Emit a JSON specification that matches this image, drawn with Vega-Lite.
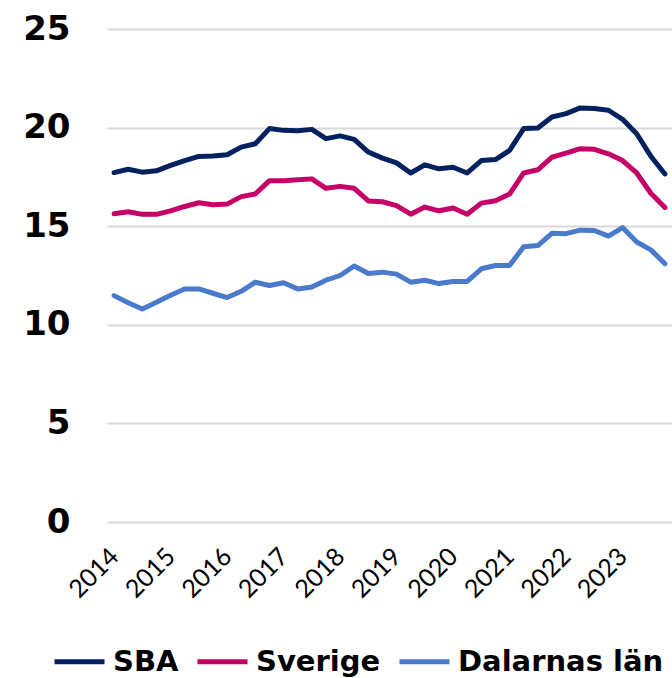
{
  "$schema": "https://vega.github.io/schema/vega-lite/v6.json",
  "autosize": {"type": "none"},
  "width": 565,
  "height": 493,
  "padding": {"left": 107, "top": 29, "right": 0, "bottom": 156},
  "background": "white",
  "config": {"view": {"stroke": null}},
  "data": {"values": [
    {"period":"2014Q1","series":"SBA","value":17.72},{"period":"2014Q2","series":"SBA","value":17.89},{"period":"2014Q3","series":"SBA","value":17.74},{"period":"2014Q4","series":"SBA","value":17.81},
    {"period":"2015Q1","series":"SBA","value":18.08},{"period":"2015Q2","series":"SBA","value":18.33},{"period":"2015Q3","series":"SBA","value":18.54},{"period":"2015Q4","series":"SBA","value":18.56},
    {"period":"2016Q1","series":"SBA","value":18.62},{"period":"2016Q2","series":"SBA","value":19.01},{"period":"2016Q3","series":"SBA","value":19.18},{"period":"2016Q4","series":"SBA","value":19.95},
    {"period":"2017Q1","series":"SBA","value":19.86},{"period":"2017Q2","series":"SBA","value":19.84},{"period":"2017Q3","series":"SBA","value":19.91},{"period":"2017Q4","series":"SBA","value":19.44},
    {"period":"2018Q1","series":"SBA","value":19.58},{"period":"2018Q2","series":"SBA","value":19.4},{"period":"2018Q3","series":"SBA","value":18.76},{"period":"2018Q4","series":"SBA","value":18.45},
    {"period":"2019Q1","series":"SBA","value":18.21},{"period":"2019Q2","series":"SBA","value":17.7},{"period":"2019Q3","series":"SBA","value":18.11},{"period":"2019Q4","series":"SBA","value":17.91},
    {"period":"2020Q1","series":"SBA","value":17.99},{"period":"2020Q2","series":"SBA","value":17.7},{"period":"2020Q3","series":"SBA","value":18.33},{"period":"2020Q4","series":"SBA","value":18.38},
    {"period":"2021Q1","series":"SBA","value":18.84},{"period":"2021Q2","series":"SBA","value":19.95},{"period":"2021Q3","series":"SBA","value":19.98},{"period":"2021Q4","series":"SBA","value":20.54},
    {"period":"2022Q1","series":"SBA","value":20.71},{"period":"2022Q2","series":"SBA","value":21.0},{"period":"2022Q3","series":"SBA","value":20.97},{"period":"2022Q4","series":"SBA","value":20.88},
    {"period":"2023Q1","series":"SBA","value":20.42},{"period":"2023Q2","series":"SBA","value":19.69},{"period":"2023Q3","series":"SBA","value":18.55},{"period":"2023Q4","series":"SBA","value":17.65},

    {"period":"2014Q1","series":"Sverige","value":15.63},{"period":"2014Q2","series":"Sverige","value":15.73},{"period":"2014Q3","series":"Sverige","value":15.6},{"period":"2014Q4","series":"Sverige","value":15.6},
    {"period":"2015Q1","series":"Sverige","value":15.78},{"period":"2015Q2","series":"Sverige","value":16.0},{"period":"2015Q3","series":"Sverige","value":16.19},{"period":"2015Q4","series":"Sverige","value":16.09},
    {"period":"2016Q1","series":"Sverige","value":16.12},{"period":"2016Q2","series":"Sverige","value":16.5},{"period":"2016Q3","series":"Sverige","value":16.63},{"period":"2016Q4","series":"Sverige","value":17.31},
    {"period":"2017Q1","series":"Sverige","value":17.31},{"period":"2017Q2","series":"Sverige","value":17.35},{"period":"2017Q3","series":"Sverige","value":17.4},{"period":"2017Q4","series":"Sverige","value":16.92},
    {"period":"2018Q1","series":"Sverige","value":17.02},{"period":"2018Q2","series":"Sverige","value":16.92},{"period":"2018Q3","series":"Sverige","value":16.28},{"period":"2018Q4","series":"Sverige","value":16.24},
    {"period":"2019Q1","series":"Sverige","value":16.04},{"period":"2019Q2","series":"Sverige","value":15.61},{"period":"2019Q3","series":"Sverige","value":15.97},{"period":"2019Q4","series":"Sverige","value":15.78},
    {"period":"2020Q1","series":"Sverige","value":15.92},{"period":"2020Q2","series":"Sverige","value":15.61},{"period":"2020Q3","series":"Sverige","value":16.17},{"period":"2020Q4","series":"Sverige","value":16.29},
    {"period":"2021Q1","series":"Sverige","value":16.63},{"period":"2021Q2","series":"Sverige","value":17.7},{"period":"2021Q3","series":"Sverige","value":17.86},{"period":"2021Q4","series":"Sverige","value":18.5},
    {"period":"2022Q1","series":"Sverige","value":18.71},{"period":"2022Q2","series":"Sverige","value":18.93},{"period":"2022Q3","series":"Sverige","value":18.9},{"period":"2022Q4","series":"Sverige","value":18.67},
    {"period":"2023Q1","series":"Sverige","value":18.33},{"period":"2023Q2","series":"Sverige","value":17.7},{"period":"2023Q3","series":"Sverige","value":16.67},{"period":"2023Q4","series":"Sverige","value":15.95},

    {"period":"2014Q1","series":"Dalarnas län","value":11.48},{"period":"2014Q2","series":"Dalarnas län","value":11.12},{"period":"2014Q3","series":"Dalarnas län","value":10.8},{"period":"2014Q4","series":"Dalarnas län","value":11.14},
    {"period":"2015Q1","series":"Dalarnas län","value":11.5},{"period":"2015Q2","series":"Dalarnas län","value":11.82},{"period":"2015Q3","series":"Dalarnas län","value":11.82},{"period":"2015Q4","series":"Dalarnas län","value":11.6},
    {"period":"2016Q1","series":"Dalarnas län","value":11.38},{"period":"2016Q2","series":"Dalarnas län","value":11.7},{"period":"2016Q3","series":"Dalarnas län","value":12.16},{"period":"2016Q4","series":"Dalarnas län","value":11.99},
    {"period":"2017Q1","series":"Dalarnas län","value":12.13},{"period":"2017Q2","series":"Dalarnas län","value":11.82},{"period":"2017Q3","series":"Dalarnas län","value":11.92},{"period":"2017Q4","series":"Dalarnas län","value":12.26},
    {"period":"2018Q1","series":"Dalarnas län","value":12.5},{"period":"2018Q2","series":"Dalarnas län","value":12.98},{"period":"2018Q3","series":"Dalarnas län","value":12.6},{"period":"2018Q4","series":"Dalarnas län","value":12.67},
    {"period":"2019Q1","series":"Dalarnas län","value":12.57},{"period":"2019Q2","series":"Dalarnas län","value":12.16},{"period":"2019Q3","series":"Dalarnas län","value":12.26},{"period":"2019Q4","series":"Dalarnas län","value":12.09},
    {"period":"2020Q1","series":"Dalarnas län","value":12.2},{"period":"2020Q2","series":"Dalarnas län","value":12.2},{"period":"2020Q3","series":"Dalarnas län","value":12.84},{"period":"2020Q4","series":"Dalarnas län","value":13.01},
    {"period":"2021Q1","series":"Dalarnas län","value":13.01},{"period":"2021Q2","series":"Dalarnas län","value":13.96},{"period":"2021Q3","series":"Dalarnas län","value":14.02},{"period":"2021Q4","series":"Dalarnas län","value":14.64},
    {"period":"2022Q1","series":"Dalarnas län","value":14.62},{"period":"2022Q2","series":"Dalarnas län","value":14.8},{"period":"2022Q3","series":"Dalarnas län","value":14.78},{"period":"2022Q4","series":"Dalarnas län","value":14.5},
    {"period":"2023Q1","series":"Dalarnas län","value":14.93},{"period":"2023Q2","series":"Dalarnas län","value":14.2},{"period":"2023Q3","series":"Dalarnas län","value":13.8},{"period":"2023Q4","series":"Dalarnas län","value":13.1}
  ]},
  "mark": {"type": "line", "strokeWidth": 5, "strokeCap": "round", "strokeJoin": "round"},
  "encoding": {
    "x": {
      "field": "period", "type": "ordinal", "sort": null,
      "scale": {"type": "point", "padding": 0.5},
      "axis": {
        "title": null, "domain": false, "ticks": false, "grid": false,
        "values": ["2014Q1","2015Q1","2016Q1","2017Q1","2018Q1","2019Q1","2020Q1","2021Q1","2022Q1","2023Q1"],
        "labelExpr": "substring(datum.value, 0, 4)",
        "labelAngle": -45, "labelAlign": "right", "labelBaseline": "middle",
        "labelPadding": 30, "labelFont": "Lato", "labelFontSize": 25, "labelColor": "#000000",
        "labelOverlap": false
      }
    },
    "y": {
      "field": "value", "type": "quantitative",
      "scale": {"domain": [0, 25], "nice": false},
      "axis": {
        "title": null, "domain": false, "ticks": false,
        "values": [0, 5, 10, 15, 20, 25],
        "grid": true, "gridColor": "#d9d9d9", "gridWidth": 2,
        "labelPadding": 37, "labelFont": "DejaVu Sans", "labelFontWeight": "bold",
        "labelFontSize": 34, "labelColor": "#000000"
      }
    },
    "color": {
      "field": "series", "type": "nominal",
      "scale": {"domain": ["SBA", "Sverige", "Dalarnas län"], "range": ["#03215f", "#c50066", "#4a7acb"]},
      "legend": {
        "title": null, "orient": "none", "direction": "horizontal",
        "legendX": -55, "legendY": 605,
        "symbolType": "stroke", "symbolSize": 2500, "symbolStrokeWidth": 5,
        "labelFont": "DejaVu Sans", "labelFontWeight": "bold", "labelFontSize": 29, "labelColor": "#000000",
        "labelOffset": 6, "columnPadding": 8, "labelLimit": 400
      }
    }
  }
}
